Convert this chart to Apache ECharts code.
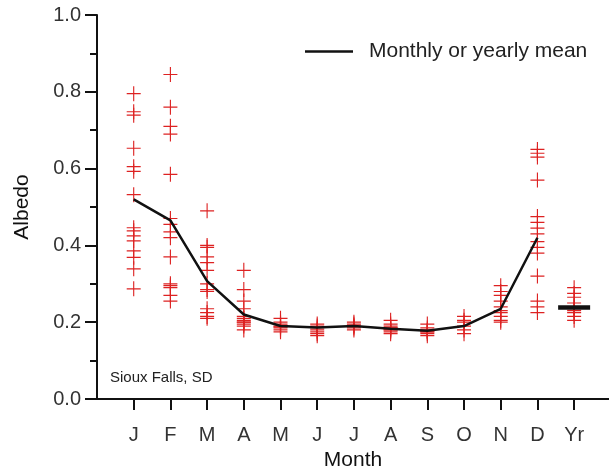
<!DOCTYPE html>
<html>
<head>
<meta charset="utf-8">
<script src="https://cdn.jsdelivr.net/npm/echarts@6/dist/echarts.min.js"></script>
<style>html,body{margin:0;padding:0;background:#fff}#c{width:609px;height:476px}</style>
</head>
<body>
<div id="c"></div>
<script>
const monthLabels = ['J','F','M','A','M','J','J','A','S','O','N','D','Yr'];
const yTicks = [0, 0.2, 0.4, 0.6, 0.8, 1.0];

const albedoJan = [0.795,0.748,0.739,0.653,0.605,0.593,0.532,0.446,0.438,0.425,0.412,0.386,0.369,0.339,0.287];
const albedoFeb = [0.845,0.76,0.71,0.69,0.585,0.47,0.455,0.435,0.42,0.37,0.30,0.295,0.29,0.27,0.255];
const albedoMar = [0.49,0.40,0.395,0.37,0.355,0.335,0.30,0.285,0.28,0.235,0.225,0.215,0.21];
const albedoApr = [0.335,0.285,0.255,0.235,0.215,0.21,0.205,0.20,0.20,0.195,0.19,0.18];
const albedoMay = [0.21,0.20,0.195,0.19,0.188,0.185,0.18,0.175];
const albedoJun = [0.195,0.19,0.185,0.18,0.175,0.17,0.165];
const albedoJul = [0.20,0.195,0.19,0.19,0.185,0.18];
const albedoAug = [0.205,0.195,0.19,0.185,0.185,0.18,0.18,0.175,0.17];
const albedoSep = [0.195,0.185,0.18,0.178,0.175,0.175,0.17,0.165];
const albedoOct = [0.215,0.205,0.20,0.19,0.18,0.17];
const albedoNov = [0.295,0.28,0.27,0.255,0.24,0.23,0.225,0.215,0.205,0.20];
const albedoDec = [0.65,0.64,0.63,0.57,0.475,0.46,0.445,0.43,0.41,0.395,0.38,0.32,0.255,0.24,0.225];
const albedoYr = [0.29,0.275,0.265,0.25,0.24,0.235,0.23,0.225,0.215,0.205];

const monthlyMean = [0.52,0.465,0.307,0.22,0.19,0.186,0.19,0.183,0.178,0.19,0.235,0.42];
const yearlyMean = 0.238;

const allObs = [albedoJan,albedoFeb,albedoMar,albedoApr,albedoMay,albedoJun,albedoJul,albedoAug,albedoSep,albedoOct,albedoNov,albedoDec,albedoYr];
const obsData = [];
allObs.forEach((arr, i) => arr.forEach(v => obsData.push([i, v])));
const meanData = monthlyMean.map((v, i) => [i, v]);

const font = '"Liberation Sans", Arial, sans-serif';
const crossPath = 'path://M0,0.46H1V0.54H0Z M0.46,0H0.54V1H0.46Z';

const chart = echarts.init(document.getElementById('c'), null, {renderer: 'canvas'});
chart.setOption({
  animation: false,
  backgroundColor: '#fff',
  grid: {left: 97, right: 0, top: 15, bottom: 75, containLabel: false},
  legend: {
    data: [{name: 'Monthly or yearly mean', icon: 'rect'}],
    left: 300, top: 36,
    itemWidth: 48, itemHeight: 2.5,
    textStyle: {fontFamily: font, fontSize: 21, color: '#222', padding: [0,0,0,11]}
  },
  xAxis: {
    type: 'value', min: -1, max: 12.95,
    name: 'Month', nameLocation: 'middle', nameGap: 51,
    nameTextStyle: {fontFamily: font, fontSize: 21, color: '#111'},
    axisLine: {show: true, onZero: false, lineStyle: {color: '#111', width: 2}},
    axisTick: {show: true, length: 11, inside: false, lineStyle: {color: '#111', width: 2},
      customValues: monthLabels.map((m, i) => i)},
    axisLabel: {show: true, margin: 26, fontFamily: font, fontSize: 20, color: '#333',
      customValues: monthLabels.map((m, i) => i),
      formatter: v => monthLabels[Math.round(v)] || ''},
    splitLine: {show: false}
  },
  yAxis: {
    type: 'value', min: 0, max: 1, interval: 0.2,
    name: 'Albedo', nameLocation: 'middle', nameGap: 64, nameRotate: 90,
    nameTextStyle: {fontFamily: font, fontSize: 21, color: '#111'},
    axisLine: {show: true, onZero: false, lineStyle: {color: '#111', width: 2}},
    axisTick: {show: true, length: 12, lineStyle: {color: '#111', width: 2}},
    minorTick: {show: true, splitNumber: 2, length: 7, lineStyle: {color: '#111', width: 2}},
    axisLabel: {margin: 16, fontFamily: font, fontSize: 20, color: '#333',
      formatter: v => v.toFixed(1)},
    splitLine: {show: false}
  },
  graphic: [{
    type: 'text', left: 110, top: 370,
    style: {text: 'Sioux Falls, SD', font: '15px "Liberation Sans", Arial, sans-serif', fill: '#222'}
  }],
  series: [
    {
      name: 'Observations', type: 'scatter', data: obsData,
      symbol: crossPath, symbolSize: [14, 15],
      itemStyle: {color: '#dd2222', opacity: 1},
      z: 2
    },
    {
      name: 'Monthly or yearly mean', type: 'line', data: meanData,
      symbol: 'none', lineStyle: {color: '#111', width: 2.5},
      itemStyle: {color: '#111'}, z: 3
    },
    {
      name: 'Yearly mean', type: 'scatter', data: [[12, yearlyMean]],
      symbol: 'rect', symbolSize: [32, 4.5],
      itemStyle: {color: '#111', opacity: 1}, z: 4
    }
  ]
});
</script>
</body>
</html>
